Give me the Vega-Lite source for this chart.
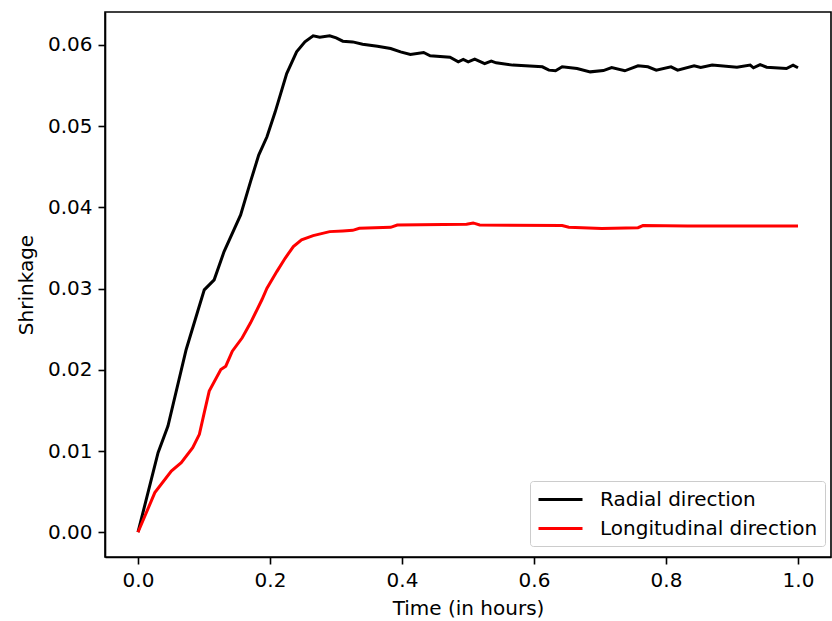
{
  "$schema": "https://vega.github.io/schema/vega-lite/v6.json",
  "width": 726,
  "height": 545,
  "autosize": "none",
  "padding": {"left": 105, "top": 12, "right": 1, "bottom": 64},
  "background": "white",
  "config": {
    "font": "DejaVu Sans",
    "view": {"stroke": "black", "strokeWidth": 1.6},
    "axis": {
      "grid": false,
      "domainColor": "black",
      "domainWidth": 1.6,
      "tickColor": "black",
      "tickWidth": 1.6,
      "tickSize": 7,
      "labelFont": "DejaVu Sans",
      "labelFontSize": 20,
      "labelColor": "black",
      "labelPadding": 6,
      "titleFont": "DejaVu Sans",
      "titleFontSize": 20,
      "titleFontWeight": "normal",
      "titleColor": "black"
    }
  },
  "data": {
    "values": [
      {"t": 0.0, "v": 0.0, "s": "Radial direction"},
      {"t": 0.0304, "v": 0.0098, "s": "Radial direction"},
      {"t": 0.0454, "v": 0.01307, "s": "Radial direction"},
      {"t": 0.073, "v": 0.0225, "s": "Radial direction"},
      {"t": 0.0904, "v": 0.02717, "s": "Radial direction"},
      {"t": 0.1004, "v": 0.02984, "s": "Radial direction"},
      {"t": 0.1154, "v": 0.03107, "s": "Radial direction"},
      {"t": 0.1304, "v": 0.03455, "s": "Radial direction"},
      {"t": 0.1555, "v": 0.03906, "s": "Radial direction"},
      {"t": 0.1705, "v": 0.04316, "s": "Radial direction"},
      {"t": 0.1829, "v": 0.04644, "s": "Radial direction"},
      {"t": 0.1954, "v": 0.04869, "s": "Radial direction"},
      {"t": 0.2079, "v": 0.05176, "s": "Radial direction"},
      {"t": 0.2253, "v": 0.05647, "s": "Radial direction"},
      {"t": 0.2403, "v": 0.05914, "s": "Radial direction"},
      {"t": 0.2529, "v": 0.06037, "s": "Radial direction"},
      {"t": 0.2654, "v": 0.06111, "s": "Radial direction"},
      {"t": 0.2754, "v": 0.06095, "s": "Radial direction"},
      {"t": 0.2904, "v": 0.06111, "s": "Radial direction"},
      {"t": 0.3003, "v": 0.06086, "s": "Radial direction"},
      {"t": 0.3103, "v": 0.06046, "s": "Radial direction"},
      {"t": 0.3253, "v": 0.06037, "s": "Radial direction"},
      {"t": 0.3403, "v": 0.06009, "s": "Radial direction"},
      {"t": 0.3628, "v": 0.05984, "s": "Radial direction"},
      {"t": 0.3828, "v": 0.05955, "s": "Radial direction"},
      {"t": 0.3978, "v": 0.05914, "s": "Radial direction"},
      {"t": 0.4127, "v": 0.05881, "s": "Radial direction"},
      {"t": 0.4328, "v": 0.05906, "s": "Radial direction"},
      {"t": 0.4427, "v": 0.05865, "s": "Radial direction"},
      {"t": 0.4727, "v": 0.05849, "s": "Radial direction"},
      {"t": 0.4853, "v": 0.05791, "s": "Radial direction"},
      {"t": 0.4928, "v": 0.0582, "s": "Radial direction"},
      {"t": 0.5003, "v": 0.05791, "s": "Radial direction"},
      {"t": 0.5102, "v": 0.05824, "s": "Radial direction"},
      {"t": 0.5252, "v": 0.0577, "s": "Radial direction"},
      {"t": 0.5352, "v": 0.058, "s": "Radial direction"},
      {"t": 0.5427, "v": 0.05779, "s": "Radial direction"},
      {"t": 0.5678, "v": 0.05751, "s": "Radial direction"},
      {"t": 0.6127, "v": 0.0573, "s": "Radial direction"},
      {"t": 0.6226, "v": 0.05689, "s": "Radial direction"},
      {"t": 0.6327, "v": 0.05681, "s": "Radial direction"},
      {"t": 0.6427, "v": 0.0573, "s": "Radial direction"},
      {"t": 0.6652, "v": 0.05709, "s": "Radial direction"},
      {"t": 0.6852, "v": 0.05668, "s": "Radial direction"},
      {"t": 0.7051, "v": 0.05684, "s": "Radial direction"},
      {"t": 0.7177, "v": 0.05721, "s": "Radial direction"},
      {"t": 0.7376, "v": 0.05681, "s": "Radial direction"},
      {"t": 0.7576, "v": 0.05742, "s": "Radial direction"},
      {"t": 0.7726, "v": 0.0573, "s": "Radial direction"},
      {"t": 0.7852, "v": 0.05689, "s": "Radial direction"},
      {"t": 0.8076, "v": 0.0573, "s": "Radial direction"},
      {"t": 0.8176, "v": 0.05689, "s": "Radial direction"},
      {"t": 0.8426, "v": 0.05742, "s": "Radial direction"},
      {"t": 0.8526, "v": 0.05721, "s": "Radial direction"},
      {"t": 0.87, "v": 0.05751, "s": "Radial direction"},
      {"t": 0.9075, "v": 0.05726, "s": "Radial direction"},
      {"t": 0.9276, "v": 0.05751, "s": "Radial direction"},
      {"t": 0.9325, "v": 0.05718, "s": "Radial direction"},
      {"t": 0.9426, "v": 0.05758, "s": "Radial direction"},
      {"t": 0.9525, "v": 0.05726, "s": "Radial direction"},
      {"t": 0.9825, "v": 0.05709, "s": "Radial direction"},
      {"t": 0.9925, "v": 0.05751, "s": "Radial direction"},
      {"t": 1.0, "v": 0.05718, "s": "Radial direction"},
      {"t": 0.0, "v": 0.0, "s": "Longitudinal direction"},
      {"t": 0.0255, "v": 0.00488, "s": "Longitudinal direction"},
      {"t": 0.0505, "v": 0.00754, "s": "Longitudinal direction"},
      {"t": 0.0655, "v": 0.00857, "s": "Longitudinal direction"},
      {"t": 0.0829, "v": 0.01041, "s": "Longitudinal direction"},
      {"t": 0.093, "v": 0.01205, "s": "Longitudinal direction"},
      {"t": 0.1004, "v": 0.01472, "s": "Longitudinal direction"},
      {"t": 0.1079, "v": 0.01737, "s": "Longitudinal direction"},
      {"t": 0.1255, "v": 0.02004, "s": "Longitudinal direction"},
      {"t": 0.133, "v": 0.02045, "s": "Longitudinal direction"},
      {"t": 0.1429, "v": 0.02229, "s": "Longitudinal direction"},
      {"t": 0.1579, "v": 0.02394, "s": "Longitudinal direction"},
      {"t": 0.1705, "v": 0.02578, "s": "Longitudinal direction"},
      {"t": 0.1879, "v": 0.02865, "s": "Longitudinal direction"},
      {"t": 0.1954, "v": 0.03004, "s": "Longitudinal direction"},
      {"t": 0.2103, "v": 0.03209, "s": "Longitudinal direction"},
      {"t": 0.2229, "v": 0.03373, "s": "Longitudinal direction"},
      {"t": 0.2354, "v": 0.03517, "s": "Longitudinal direction"},
      {"t": 0.2478, "v": 0.03599, "s": "Longitudinal direction"},
      {"t": 0.2654, "v": 0.03652, "s": "Longitudinal direction"},
      {"t": 0.2904, "v": 0.03701, "s": "Longitudinal direction"},
      {"t": 0.3103, "v": 0.0371, "s": "Longitudinal direction"},
      {"t": 0.3253, "v": 0.03717, "s": "Longitudinal direction"},
      {"t": 0.3354, "v": 0.03742, "s": "Longitudinal direction"},
      {"t": 0.3828, "v": 0.03754, "s": "Longitudinal direction"},
      {"t": 0.3928, "v": 0.03783, "s": "Longitudinal direction"},
      {"t": 0.4978, "v": 0.03791, "s": "Longitudinal direction"},
      {"t": 0.5078, "v": 0.03808, "s": "Longitudinal direction"},
      {"t": 0.5177, "v": 0.03783, "s": "Longitudinal direction"},
      {"t": 0.6427, "v": 0.03775, "s": "Longitudinal direction"},
      {"t": 0.6527, "v": 0.03754, "s": "Longitudinal direction"},
      {"t": 0.7027, "v": 0.03738, "s": "Longitudinal direction"},
      {"t": 0.7576, "v": 0.0375, "s": "Longitudinal direction"},
      {"t": 0.7651, "v": 0.03775, "s": "Longitudinal direction"},
      {"t": 0.8326, "v": 0.03771, "s": "Longitudinal direction"},
      {"t": 1.0, "v": 0.03771, "s": "Longitudinal direction"}
    ]
  },
  "mark": {"type": "line", "strokeWidth": 3, "clip": true},
  "encoding": {
    "x": {
      "field": "t", "type": "quantitative",
      "scale": {"domain": [-0.05, 1.05], "nice": false, "zero": false},
      "axis": {"title": "Time (in hours)", "values": [0, 0.2, 0.4, 0.6, 0.8, 1.0], "format": ".1f", "titlePadding": 8}
    },
    "y": {
      "field": "v", "type": "quantitative",
      "scale": {"domain": [-0.00305, 0.06405], "nice": false, "zero": false},
      "axis": {"title": "Shrinkage", "values": [0, 0.01, 0.02, 0.03, 0.04, 0.05, 0.06], "format": ".2f", "titlePadding": 11}
    },
    "color": {
      "field": "s", "type": "nominal",
      "scale": {"domain": ["Radial direction", "Longitudinal direction"], "range": ["black", "red"]},
      "sort": ["Radial direction", "Longitudinal direction"],
      "legend": {
        "title": null,
        "orient": "none",
        "legendX": 425,
        "legendY": 469,
        "symbolType": "M-2.2,0H2.2",
        "symbolSize": 400,
        "symbolStrokeWidth": 3,
        "symbolOffset": 12,
        "labelFontSize": 20,
        "labelFont": "DejaVu Sans",
        "labelColor": "black",
        "labelOffset": 28,
        "labelLimit": 400,
        "rowPadding": 7,
        "padding": 7,
        "strokeColor": "#cccccc",
        "fillColor": "white",
        "cornerRadius": 3
      }
    }
  }
}
